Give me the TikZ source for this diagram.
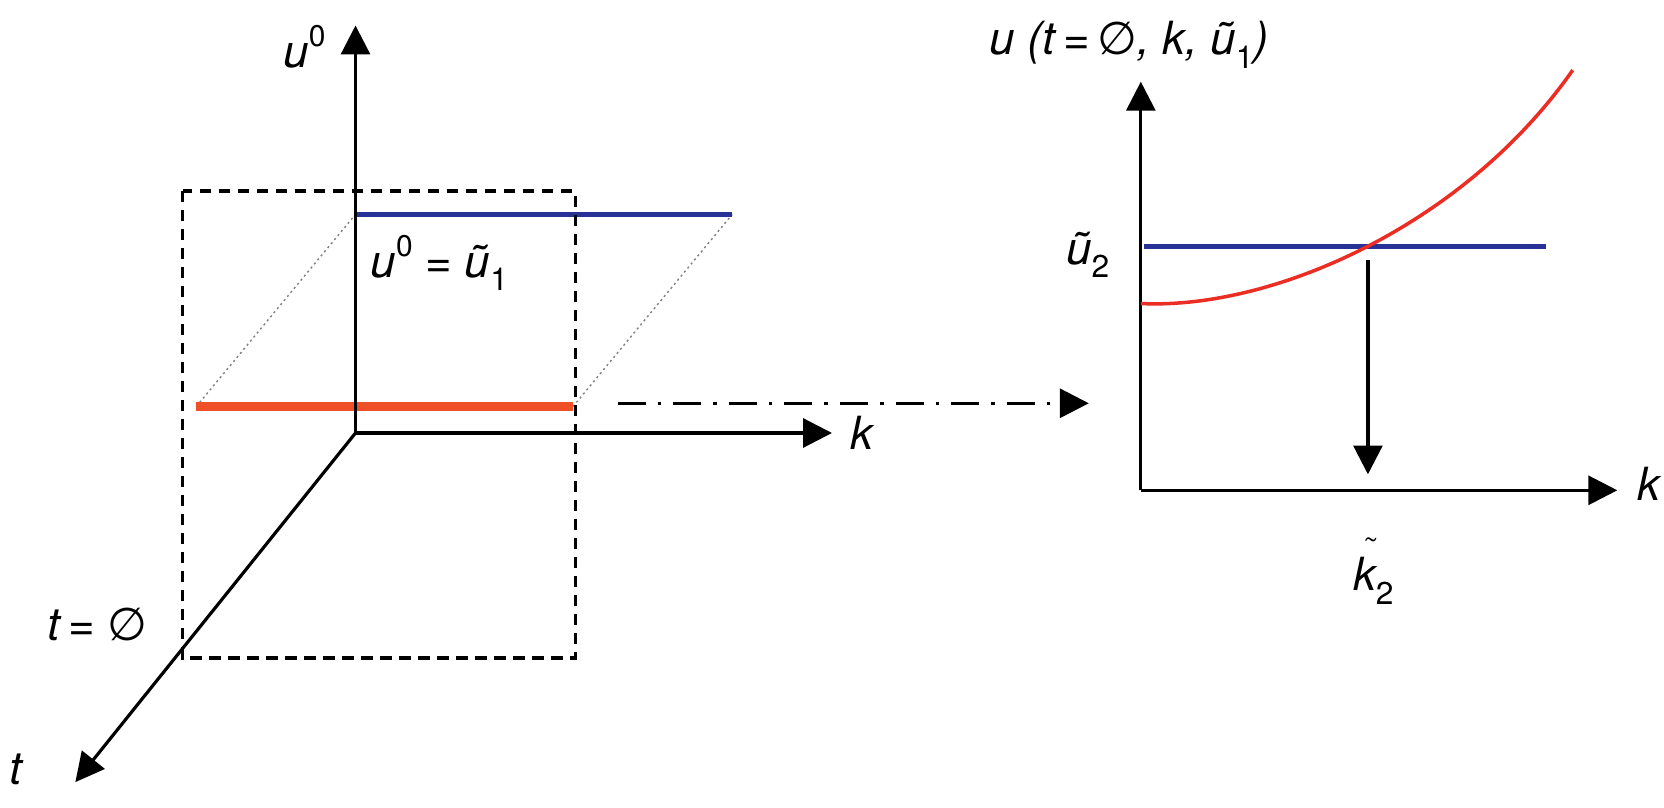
\documentclass[tikz,border=0pt]{standalone}
\usepackage{fontspec}
\setmainfont{TeX Gyre Heros}
\newfontfamily\simbolo{DejaVu Sans}
\usepackage{tikz}
\usetikzlibrary{arrows.meta, positioning}
\definecolor{azul}{RGB}{40,50,150}
\definecolor{naranja}{RGB}{240,80,40}
\definecolor{rojo}{RGB}{235,45,35}
\newcommand{\vacio}{{\simbolo\upshape ∅}}
\newcommand{\sups}[1]{\raisebox{0.45em}{\fontsize{8.5}{9}\selectfont\upshape #1}}
\newcommand{\subs}[1]{\raisebox{-0.3em}{\fontsize{9}{9}\selectfont\upshape #1}}
\newcommand{\ktilde}{\makebox[0pt][l]{\hspace{0.22em}\raisebox{0.92em}{\fontsize{7}{7}\selectfont\textasciitilde}}k}
\tikzset{
  eje/.style={-{Triangle[length=8.2pt, width=8.2pt]}, line width=0.9pt, black},
  caja/.style={line width=0.9pt, dash pattern=on 3.2pt off 2.2pt},
  guia/.style={gray, line width=0.4pt, dash pattern=on 0.6pt off 0.9pt},
  discont/.style={eje, dash pattern=on 8pt off 3.4pt on 1pt off 3.4pt},
  nivel/.style={azul, line width=1.3pt},
  rotulo/.style={font=\fontsize{13}{15}\selectfont\itshape, inner sep=0pt}
}

\begin{document}
\begin{tikzpicture}[x=0.010612cm, y=-0.010612cm]
  \useasboundingbox (0,0) rectangle (1568,761);
  % espacio (t, k, u0)
  \coordinate (O) at (335,408);
  \coordinate (uTop) at (335,24);
  \coordinate (kEnd) at (784,408);
  \coordinate (tEnd) at (71,737);
  \coordinate (rojoA) at (185,383);
  \coordinate (rojoB) at (540,383);
  \coordinate (azulA) at (335,202);
  \coordinate (azulB) at (690,202);
  \draw[guia] (rojoA) -- (azulA);
  \draw[guia] (rojoB) -- (azulB);
  \draw[nivel] (azulA) -- (azulB);
  \draw[naranja, line width=2.7pt] (rojoA) -- (rojoB);
  \draw[eje] (O) -- (uTop);
  \draw[eje] (O) -- (kEnd);
  \draw[eje] (O) -- (tEnd);
  \draw[caja] (172,180) rectangle (542,620);
  \node[rotulo] (lblU0) at (287,44) {u\sups{0}};
  \node[rotulo] (lblIgual) at (414,248) {u\sups{0} = ũ\subs{1}};
  \node[rotulo, right=5pt of kEnd] (lblK) {k};
  \node[rotulo] (lblT0) at (92,588) {t\,=\;\vacio};
  \node[rotulo] (lblT) at (15,725) {t};
  % paso al corte t = 0
  \coordinate (salida) at (582,380);
  \coordinate (llegada) at (1026,380);
  \draw[discont] (salida) -- (llegada);
  % grafica u(k)
  \coordinate (R) at (1075,462);
  \coordinate (rTop) at (1075,77);
  \coordinate (rEnd) at (1524,462);
  \coordinate (u2A) at (1078,232);
  \coordinate (u2B) at (1457,232);
  \coordinate (bajaA) at (1289,245);
  \coordinate (bajaB) at (1289,447);
  \coordinate (curvaA) at (1075,286);
  \coordinate (curvaB) at (1482,66);
  \draw[eje] (R) -- (rTop);
  \draw[eje] (R) -- (rEnd);
  \draw[nivel] (u2A) -- (u2B);
  \draw[rojo, line width=1pt] (curvaA) .. controls (1200,292) and (1380,212) .. (curvaB);
  \draw[eje] (bajaA) -- (bajaB);
  \node[rotulo] (titulo) at (1064,42) {u (t\,=\,\vacio, k, ũ\subs{1})};
  \node[rotulo] (lblU2) at (1025,240) {ũ\subs{2}};
  \node[rotulo] (lblKr) at (1554,456) {k};
  \node[rotulo] (lblK2) at (1294,538) {\ktilde\subs{2}};
\end{tikzpicture}
\end{document}
